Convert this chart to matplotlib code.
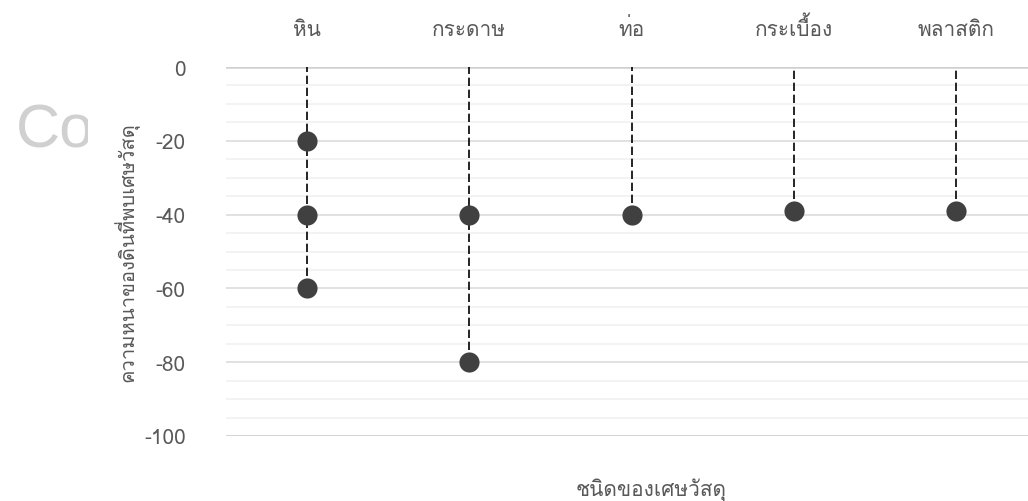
import matplotlib
matplotlib.use('Agg')
import matplotlib.pyplot as plt
from matplotlib import font_manager
from matplotlib.ft2font import FT2Font
from matplotlib.patches import Rectangle
from matplotlib.ticker import MultipleLocator

# debris type and the soil depth (cm, negative = below surface) where it was found
categories = ['หิน', 'กระดาษ', 'ท่อ', 'กระเบื้อง', 'พลาสติก']
depths = [[-20, -40, -60], [-40, -80], [-40], [-39], [-39]]
y_ticks = [0, -20, -40, -60, -80, -100]

x_title = 'ชนิดของเศษวัสดุ'
y_title = 'ความหนาของดินที่พบเศษวัสดุ'


def thai_family():
    # first installed family that actually has Thai glyphs
    for f in font_manager.fontManager.ttflist:
        try:
            if 0x0E01 in FT2Font(f.fname).get_charmap():
                return f.name
        except Exception:
            continue
    return 'DejaVu Sans'


fam = thai_family()
plt.rcParams['font.family'] = [fam, 'DejaVu Sans']
plt.rcParams['axes.unicode_minus'] = False
text_color = '#595959'
fs = 15

fig = plt.figure(figsize=(10.28, 5.02), dpi=100)

# faint watermark peeking out on the left, cut off by a white box
fig.text(16 / 1028, 1 - 148 / 502, 'Co', fontsize=44, color='#d0d0d0',
         va='baseline', ha='left', family='Liberation Sans')
fig.patches.append(Rectangle((88 / 1028, 0.55), 0.08, 0.4, transform=fig.transFigure,
                             facecolor='white', edgecolor='none', zorder=5))

ax = fig.add_axes([226 / 1028, 1 - 437 / 502, 811 / 1028, 369 / 502], zorder=6)
ax.patch.set_alpha(0)

for i, vals in enumerate(depths):
    ax.vlines(i, min(vals), 0, colors='black', linestyles=(0, (5, 2.2)),
              linewidth=1.2, zorder=3)
    ax.plot([i] * len(vals), vals, 'o', color='#404040', markersize=14.5,
            markeredgewidth=0, zorder=4)

ax.set_xlim(-0.5, len(categories) - 0.5)
ax.set_ylim(-100, 0)
ax.set_yticks(y_ticks)
ax.yaxis.set_minor_locator(MultipleLocator(5))
ax.grid(which='major', axis='y', color='#d9d9d9', linewidth=1.1)
ax.grid(which='minor', axis='y', color='#f0f0f0', linewidth=1.1)
ax.axhline(0, color='#d0d0d0', linewidth=1.8, zorder=2)
ax.axhline(-100, color='#d0d0d0', linewidth=1.8, zorder=2)

ax.set_xticks(range(len(categories)))
ax.set_xticklabels(categories)
ax.xaxis.tick_top()
ax.tick_params(axis='x', length=0, pad=20, labelsize=fs, labelcolor=text_color)
ax.tick_params(axis='y', which='both', length=0, pad=29, labelsize=fs,
               labelcolor=text_color)
for s in ax.spines.values():
    s.set_visible(False)

ax.set_ylabel(y_title, fontsize=14.5, color=text_color, labelpad=3)
fig.text(651 / 1028, 1 - 490 / 502, x_title, fontsize=fs, color=text_color,
         ha='center', va='center')

fig.savefig('out.png', dpi=100)
